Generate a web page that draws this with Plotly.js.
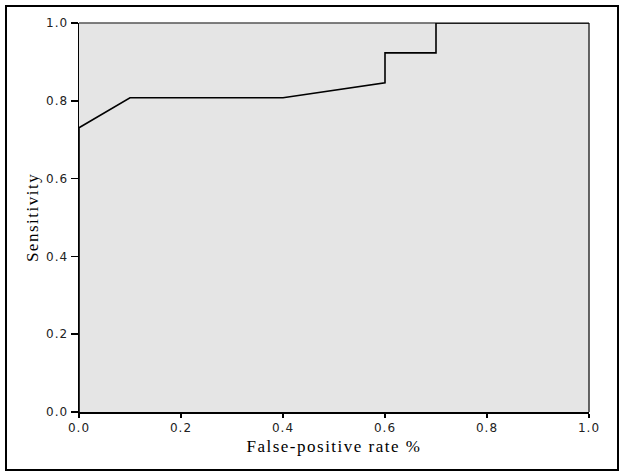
<!DOCTYPE html>
<html>
<head>
<script src="https://cdn.plot.ly/plotly-3.0.1.min.js"></script>
<style>
html,body{margin:0;padding:0;background:#fff;}
#wrap{position:relative;width:620px;height:471px;}
#frame{position:absolute;left:5px;top:5px;width:610px;height:462px;border:2px solid #000;pointer-events:none;}
#chart{position:absolute;left:0;top:0;width:620px;height:471px;}
.xtitle, .ytitle{letter-spacing:1.5px;}
.xtick text, .ytick text{letter-spacing:1px;}
</style>
</head>
<body>
<div id="wrap"><div id="chart"></div><div id="frame"></div></div>
<script>
var fpr = [0.0, 0.0, 0.1, 0.4, 0.6, 0.6, 0.7, 0.7, 1.0];
var sensitivity = [0.0, 0.7308, 0.8077, 0.8077, 0.8462, 0.9231, 0.9231, 1.0, 1.0];
var tickVals = [0, 0.2, 0.4, 0.6, 0.8, 1.0];
var tickText = ['0.0', '0.2', '0.4', '0.6', '0.8', '1.0'];

var trace = {
  x: fpr, y: sensitivity, mode: 'lines', type: 'scatter',
  line: {color: '#000', width: 1.6}, hoverinfo: 'none', cliponaxis: false
};
var axisCommon = {
  range: [0, 1], tickvals: tickVals, ticktext: tickText,
  ticks: 'outside', tickwidth: 1.5, tickcolor: '#000',
  showline: true, linecolor: '#000', linewidth: 1.5,
  showgrid: false, zeroline: false, fixedrange: true,
  tickfont: {family: 'DejaVu Sans', size: 12, color: '#222'}
};
var layout = {
  width: 620, height: 471,
  margin: {l: 79, r: 31, t: 23, b: 59},
  paper_bgcolor: '#fff', plot_bgcolor: '#e5e5e5',
  showlegend: false,
  xaxis: Object.assign({}, axisCommon, {
    ticklen: 4,
    title: {text: 'False-positive rate %', font: {family: 'Liberation Serif', size: 17, color: '#000'}, standoff: 6}
  }),
  yaxis: Object.assign({}, axisCommon, {
    ticklen: 7,
    title: {text: 'Sensitivity', font: {family: 'Liberation Serif', size: 17, color: '#000'}, standoff: 3}
  }),
  shapes: [
    {type: 'line', xref: 'paper', yref: 'paper', x0: 0, x1: 1, y0: 1, y1: 1, line: {color: '#555', width: 1.5}, layer: 'below'},
    {type: 'line', xref: 'paper', yref: 'paper', x0: 1, x1: 1, y0: 0, y1: 1, line: {color: '#333', width: 1.5}, layer: 'below'}
  ]
};
Plotly.newPlot('chart', [trace], layout, {displayModeBar: false, staticPlot: true});
</script>
</body>
</html>
